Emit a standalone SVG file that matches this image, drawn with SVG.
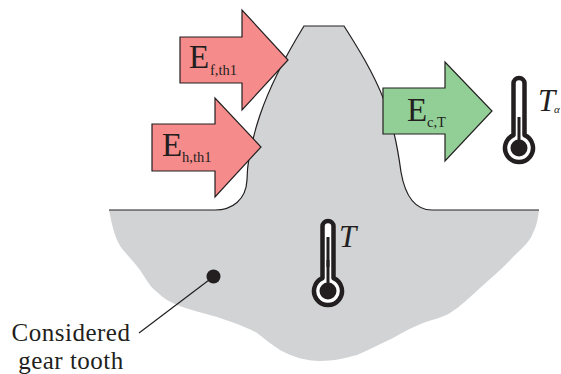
<svg xmlns="http://www.w3.org/2000/svg" width="561" height="374" viewBox="0 0 561 374">
<style>
text{font-family:"Liberation Serif","Times New Roman",serif;fill:#231f20}
.arr{stroke:#231f20;stroke-width:1.200;stroke-linejoin:miter}
.red{fill:#f68b8b}.grn{fill:#92cf96}
.E{font-size:33px}.sub{font-size:14.500px}
.lab{font-size:25px;letter-spacing:.5px;text-anchor:middle}
.T{font-size:31px;font-style:italic}
.tb{fill:#fff;stroke:#231f20;stroke-width:4.500;stroke-linejoin:round}
.k{fill:#231f20}
</style>
<defs>
<g id="therm">
<path class="tb" d="M-5.500 -12.900V-64.500A5.500 5.500 0 0 1 5.500 -64.500V-12.900A14 14 0 1 1 -5.500 -12.900Z"/>
<rect class="k" x="-1.500" y="-31" width="3" height="25"/>
<circle class="k" r="8.500"/>
</g>
</defs>
<g id="gear">
<path fill="#d1d3d4" d="M109 210C112 225 115 240 123 250C129 257 134 262 140 270C146 279 150 287 157 292C163 298 170 302 177 305C190 310 204 313 217 317C231 322 245 326 257 333C265 339 272 345 280 350C293 357 306 361 320 361C333 361 346 358 357 355C370 349 381 344 393 338C403 332 413 327 423 323C433 319 442 318 450 313C461 306 470 297 480 288C491 278 503 268 513 257C522 248 529 243 533 233C537 225 538 218 539 210H432C414 210 405 195 401 172C398 150 394 125 384 100C373 72 358 48 344 26H304C288 52 272 80 260 115C250 145 247 165 247 180C246 200 232 210 215 210Z"/>
<path fill="none" stroke="#231f20" stroke-width="1.200" d="M109 210H215C232 210 246 200 247 180C247 165 250 145 260 115C272 80 288 52 304 26H344C358 48 373 72 384 100C394 125 398 150 401 172C405 195 414 210 432 210H539"/>
</g>
<g id="arrow-f">
<path class="arr red" d="M180 37H242V10L288 60L242 110V83H180Z"/>
<text class="E" x="189" y="68">E</text><text class="sub" x="210" y="75">f,th1</text>
</g>
<g id="arrow-h">
<path class="arr red" d="M152 124H215V98L261 147L215 197V171H152Z"/>
<text class="E" x="162" y="156">E</text><text class="sub" x="182" y="162">h,th1</text>
</g>
<g id="arrow-c">
<path class="arr grn" d="M383 88H445V62L492 111L445 161V134H383Z"/>
<text class="E" x="407" y="121">E</text><text class="sub" x="427" y="127">c,T</text>
</g>
<g id="therm-air">
<use href="#therm" x="519" y="148"/>
<text class="T" x="538" y="111">T</text><text x="554" y="113" font-size="11" font-style="italic">α</text>
</g>
<g id="therm-tooth">
<use href="#therm" x="328" y="291"/>
<rect class="k" x="326.500" y="237" width="3" height="30"/>
<text class="T" x="339" y="247">T</text>
</g>
<g id="label">
<text class="lab" x="71" y="340.500">Considered</text>
<text class="lab" x="71" y="368.500">gear tooth</text>
</g>
<g id="connectors">
<circle class="k" cx="213.500" cy="276.500" r="7"/>
<path d="M139 333L213 277" fill="none" stroke="#231f20" stroke-width="1.200"/>
</g>
</svg>
